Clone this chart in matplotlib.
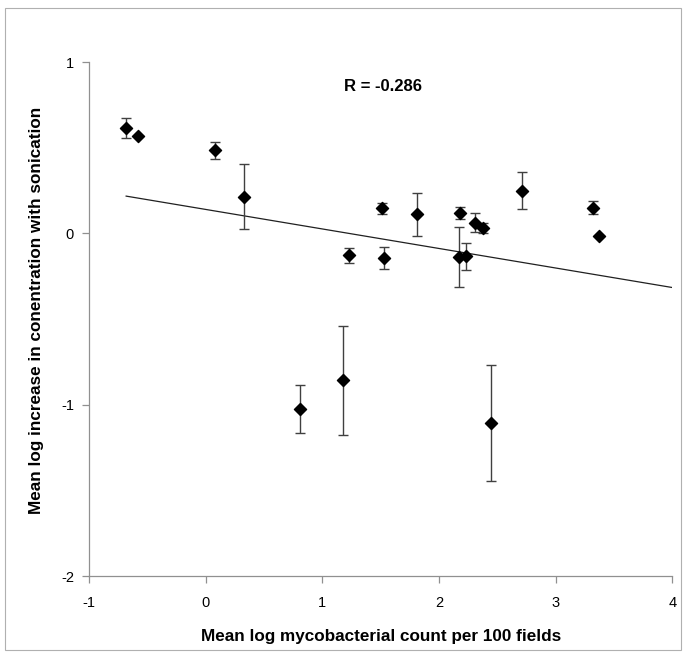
import numpy as np
import matplotlib
matplotlib.use("Agg")
import matplotlib.pyplot as plt
from matplotlib.patches import Rectangle

plt.rcParams['font.family'] = ['Liberation Sans', 'DejaVu Sans']
plt.rcParams['axes.unicode_minus'] = False

x_vals = [-0.683, -0.582, 0.081, 0.329, 0.804, 1.176, 1.224, 1.510, 1.530, 1.810,
          2.176, 2.171, 2.233, 2.305, 2.376, 2.448, 2.714, 3.320, 3.368]
y_vals = [0.615, 0.570, 0.485, 0.214, -1.027, -0.858, -0.128, 0.146, -0.142, 0.111,
          0.119, -0.138, -0.132, 0.064, 0.033, -1.105, 0.249, 0.150, -0.014]
y_err = [0.057, 0.0, 0.048, 0.190, 0.140, 0.320, 0.045, 0.034, 0.064, 0.128,
         0.035, 0.173, 0.079, 0.056, 0.028, 0.340, 0.109, 0.039, 0.0]
x_ticks = [-1, 0, 1, 2, 3, 4]
y_ticks = [-2, -1, 0, 1]
r_label = "R = -0.286"
x_label = "Mean log mycobacterial count per 100 fields"
y_label = "Mean log increase in conentration with sonication"

fig = plt.figure(figsize=(6.86, 6.54), dpi=100)
fig.patches.append(Rectangle((0.008, 0.006), 0.985, 0.982, transform=fig.transFigure,
                             fill=False, edgecolor='#b0b0b0', linewidth=0.8))
ax = fig.add_axes([0.130, 0.119, 0.850, 0.786])

x = np.array(x_vals)
y = np.array(y_vals)
e = np.array(y_err)
mask = e > 0
ax.errorbar(x[mask], y[mask], yerr=e[mask], fmt='none', ecolor='#404040',
            elinewidth=1.0, capsize=3.5, capthick=1.0, zorder=2)
ax.scatter(x, y, marker='D', s=38, color='black', zorder=3)

slope, intercept = np.polyfit(x, y, 1)
xl = np.array([min(x_vals), 4.0])
ax.plot(xl, slope * xl + intercept, color='#202020', linewidth=0.9, zorder=1)

ax.text(1.52, 0.86, r_label, ha='center', va='center', fontsize=12, fontweight='bold')

ax.set_xlim(-1, 4)
ax.set_ylim(-2, 1)
ax.set_xticks(x_ticks)
ax.set_yticks(y_ticks)
for s in ['top', 'right']:
    ax.spines[s].set_visible(False)
for s in ['left', 'bottom']:
    ax.spines[s].set_color('#909090')
    ax.spines[s].set_linewidth(0.9)
ax.tick_params(direction='out', length=5, color='#909090', labelsize=10.5, width=0.9)
ax.tick_params(axis='x', pad=9)
ax.tick_params(axis='y', pad=6)
ax.set_xlabel(x_label, fontsize=12.3, fontweight='bold', labelpad=14)
ax.set_ylabel(y_label, fontsize=12.3, fontweight='bold', labelpad=12, y=0.517)

fig.savefig("out.png", dpi=100)
